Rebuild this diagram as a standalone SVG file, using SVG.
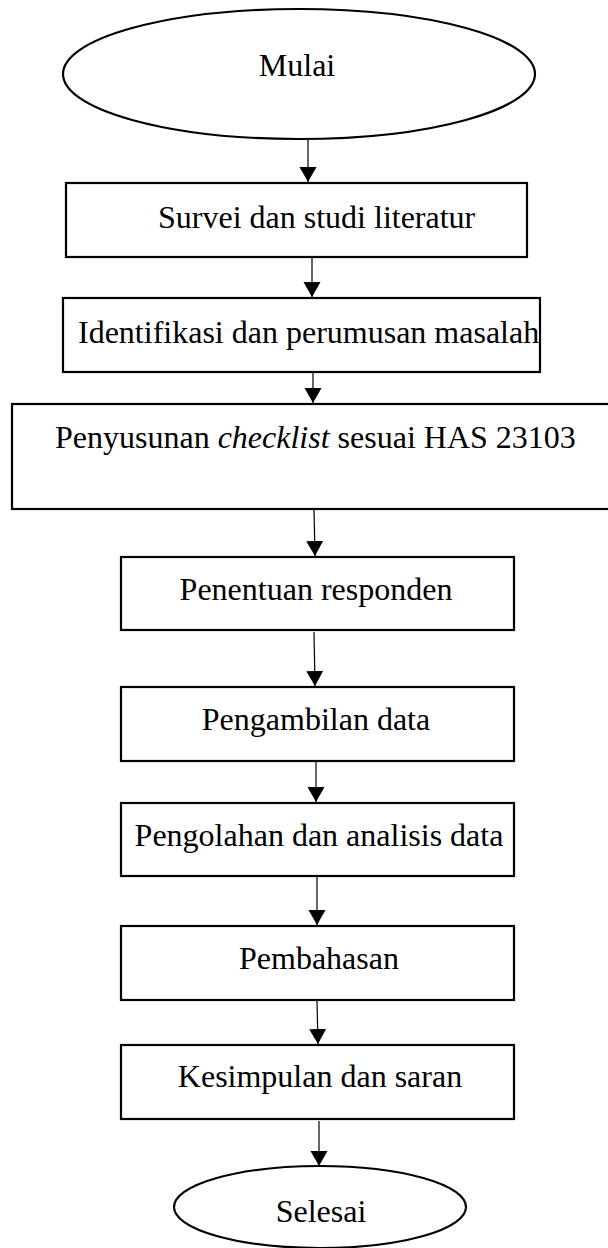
<svg xmlns="http://www.w3.org/2000/svg" width="608" height="1248" viewBox="0 0 608 1248">
  <style>
    .shape { fill: #ffffff; stroke: #000000; stroke-width: 2.2; }
    .label { font-family: "Liberation Serif", "Times New Roman", serif; font-size: 32px; fill: #000000; }
    .mid { text-anchor: middle; }
    .flow { stroke: #000000; stroke-width: 1.2; fill: none; }
  </style>
  <defs>
    <!-- solid triangular arrowhead, tip at the end of the line -->
    <marker id="head" markerUnits="userSpaceOnUse" markerWidth="16" markerHeight="18" refX="15" refY="8.5" orient="auto" viewBox="0 0 16 17">
      <path d="M0,0 L15,8.5 L0,17 Z" fill="#000000"/>
    </marker>
  </defs>
  <rect width="608" height="1248" fill="#ffffff"/>

  <!-- connectors -->
  <g id="connectors">
    <line class="flow" x1="308" y1="140" x2="308" y2="182" marker-end="url(#head)"/>
    <line class="flow" x1="312" y1="258" x2="312" y2="297" marker-end="url(#head)"/>
    <line class="flow" x1="313" y1="373" x2="313" y2="403" marker-end="url(#head)"/>
    <line class="flow" x1="314" y1="510" x2="315" y2="556" marker-end="url(#head)"/>
    <line class="flow" x1="314" y1="632" x2="315" y2="686" marker-end="url(#head)"/>
    <line class="flow" x1="316" y1="762" x2="316" y2="802" marker-end="url(#head)"/>
    <line class="flow" x1="317" y1="877" x2="317" y2="925" marker-end="url(#head)"/>
    <line class="flow" x1="317" y1="1001" x2="318" y2="1044" marker-end="url(#head)"/>
    <line class="flow" x1="319" y1="1121" x2="319" y2="1166" marker-end="url(#head)"/>
  </g>

  <!-- nodes -->
  <g id="start">
    <ellipse class="shape" cx="299" cy="74" rx="236" ry="65"/>
    <text class="label mid" x="297" y="76">Mulai</text>
  </g>
  <g id="survei">
    <rect class="shape" x="66" y="183" width="461" height="74"/>
    <text class="label" x="158" y="228">Survei dan studi literatur</text>
  </g>
  <g id="identifikasi">
    <rect class="shape" x="63" y="298" width="477" height="74"/>
    <text class="label" x="78" y="343">Identifikasi dan perumusan masalah</text>
  </g>
  <g id="penyusunan">
    <rect class="shape" x="12" y="404" width="620" height="105"/>
    <text class="label" x="55" y="448">Penyusunan <tspan font-style="italic">checklist</tspan> sesuai HAS 23103</text>
  </g>
  <g id="responden">
    <rect class="shape" x="121" y="557" width="393" height="73"/>
    <text class="label mid" x="316" y="600">Penentuan responden</text>
  </g>
  <g id="pengambilan">
    <rect class="shape" x="121" y="687" width="393" height="74"/>
    <text class="label mid" x="316" y="730">Pengambilan data</text>
  </g>
  <g id="pengolahan">
    <rect class="shape" x="121" y="803" width="393" height="73"/>
    <text class="label mid" x="319" y="846">Pengolahan dan analisis data</text>
  </g>
  <g id="pembahasan">
    <rect class="shape" x="121" y="926" width="393" height="74"/>
    <text class="label mid" x="319" y="969">Pembahasan</text>
  </g>
  <g id="kesimpulan">
    <rect class="shape" x="121" y="1045" width="393" height="74"/>
    <text class="label mid" x="320" y="1087">Kesimpulan dan saran</text>
  </g>
  <g id="end">
    <ellipse class="shape" cx="320" cy="1207" rx="146" ry="41"/>
    <text class="label mid" x="321" y="1222">Selesai</text>
  </g>
</svg>
